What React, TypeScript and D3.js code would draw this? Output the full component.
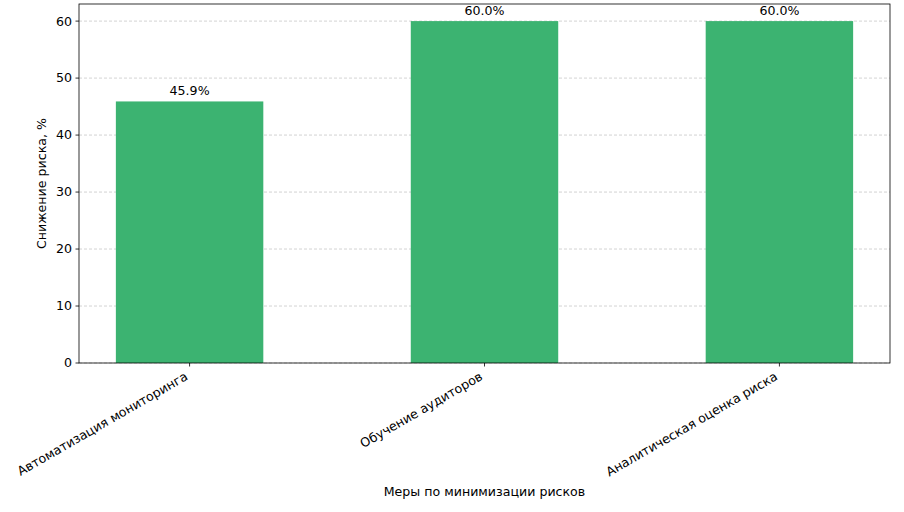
import React from "react";
import * as d3 from "d3";

const categories = ["Автоматизация мониторинга", "Обучение аудиторов", "Аналитическая оценка риска"];
const values = [45.9, 60.0, 60.0];
const yTicks = [0, 10, 20, 30, 40, 50, 60];

const W = 904, H = 512;
const M = { left: 79, right: 890, top: 4, bottom: 363 };
const FONT = "DejaVu Sans, sans-serif";
const FS = 12.6;

export default function App() {
  const x = d3.scaleLinear().domain([-0.375, 2.375]).range([M.left, M.right]);
  const y = d3.scaleLinear().domain([0, 63]).range([M.bottom, M.top]);
  const bw = x(0.5) - x(0);
  return (
    <svg width={W} height={H} style={{ position: "absolute", left: 0, top: 0 }} fontFamily={FONT}>
      <rect width={W} height={H} fill="#fff" />
      {yTicks.map((t) => (
        <line key={"g" + t} x1={M.left} x2={M.right} y1={y(t)} y2={y(t)} stroke="#b0b0b0" strokeOpacity={0.7} strokeWidth={0.8} strokeDasharray="3,2" />
      ))}
      {values.map((v, i) => (
        <g key={"b" + i}>
          <rect x={x(i) - bw / 2} y={y(v)} width={bw} height={y(0) - y(v)} fill="#3CB371" />
          <text x={x(i)} y={y(v) - 6} textAnchor="middle" fontSize={FS} fill="#000">{v.toFixed(1)}%</text>
        </g>
      ))}
      <rect x={M.left} y={M.top} width={M.right - M.left} height={M.bottom - M.top} fill="none" stroke="#000" strokeWidth={0.8} />
      {yTicks.map((t) => (
        <g key={"yt" + t}>
          <line x1={M.left - 3.5} x2={M.left} y1={y(t)} y2={y(t)} stroke="#000" strokeWidth={0.8} />
          <text x={M.left - 7} y={y(t)} dy="0.35em" textAnchor="end" fontSize={FS}>{t}</text>
        </g>
      ))}
      {categories.map((c, i) => (
        <g key={"xt" + i}>
          <line x1={x(i)} x2={x(i)} y1={M.bottom} y2={M.bottom + 3.5} stroke="#000" strokeWidth={0.8} />
          <text transform={`translate(${x(i) - 1},${M.bottom + 16}) rotate(-30)`} textAnchor="end" fontSize={FS}>{c}</text>
        </g>
      ))}
      <text x={(M.left + M.right) / 2} y={496} textAnchor="middle" fontSize={FS}>Меры по минимизации рисков</text>
      <text transform={`translate(46,${(M.top + M.bottom) / 2}) rotate(-90)`} textAnchor="middle" fontSize={FS}>Снижение риска, %</text>
    </svg>
  );
}
